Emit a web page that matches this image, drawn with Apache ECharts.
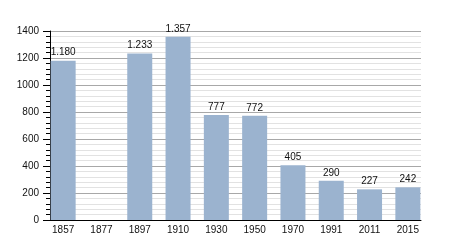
<!DOCTYPE html>
<html><head><meta charset="utf-8">
<script src="https://cdn.jsdelivr.net/npm/echarts@6/dist/echarts.min.js"></script>
<style>html,body{margin:0;padding:0;background:#fff}#c{width:450px;height:250px}</style>
</head><body><div id="c"></div>
<script>
const categories = ['1857','1877','1897','1910','1930','1950','1970','1991','2011','2015'];
const population = [1180, null, 1233, 1357, 777, 772, 405, 290, 227, 242];
const yTicks = [0, 200, 400, 600, 800, 1000, 1200, 1400];

const FONT = 'Liberation Sans, Arial, sans-serif';
const chart = echarts.init(document.getElementById('c'), null, {renderer: 'canvas'});
const fmt = v => v >= 1000 ? Math.floor(v/1000) + '.' + String(v%1000).padStart(3,'0') : String(v);

chart.setOption({
  animation: false,
  backgroundColor: '#fff',
  grid: [
    {left: 50, right: 29, top: 31, bottom: 30},
    {left: 44, right: 23, top: 31, bottom: 30}
  ],
  xAxis: [
    {gridIndex: 0, type: 'category', data: categories,
     axisLine: {lineStyle: {color: '#000', width: 1}}, axisTick: {show: false}, axisLabel: {show: false}},
    {gridIndex: 1, type: 'category', data: categories,
     axisLine: {show: false}, axisTick: {show: false},
     axisLabel: {color: '#111', fontFamily: FONT, fontSize: 10, margin: 5}}
  ],
  yAxis: [
    {gridIndex: 0, type: 'value', min: yTicks[0], max: yTicks[yTicks.length-1], interval: 200,
     axisLine: {show: true, lineStyle: {color: '#000'}},
     axisTick: {show: true, length: 7, lineStyle: {color: '#000'}},
     minorTick: {show: true, splitNumber: 5, length: 4, lineStyle: {color: '#000'}},
     splitLine: {show: true, lineStyle: {color: '#a8a8a8', width: 1}},
     minorSplitLine: {show: true, lineStyle: {color: '#e2e2e2', width: 1}},
     axisLabel: {color: '#111', fontFamily: FONT, fontSize: 10, margin: 11, formatter: v => String(v)}},
    {gridIndex: 1, type: 'value', min: yTicks[0], max: yTicks[yTicks.length-1], show: false}
  ],
  series: [{
    type: 'bar', xAxisIndex: 1, yAxisIndex: 1,
    data: population, barWidth: 25,
    itemStyle: {color: '#9bb3cf'},
    label: {show: true, position: 'top', distance: 3, color: '#111', fontFamily: FONT, fontSize: 10,
            formatter: p => fmt(p.value)}
  }]
});
</script></body></html>
